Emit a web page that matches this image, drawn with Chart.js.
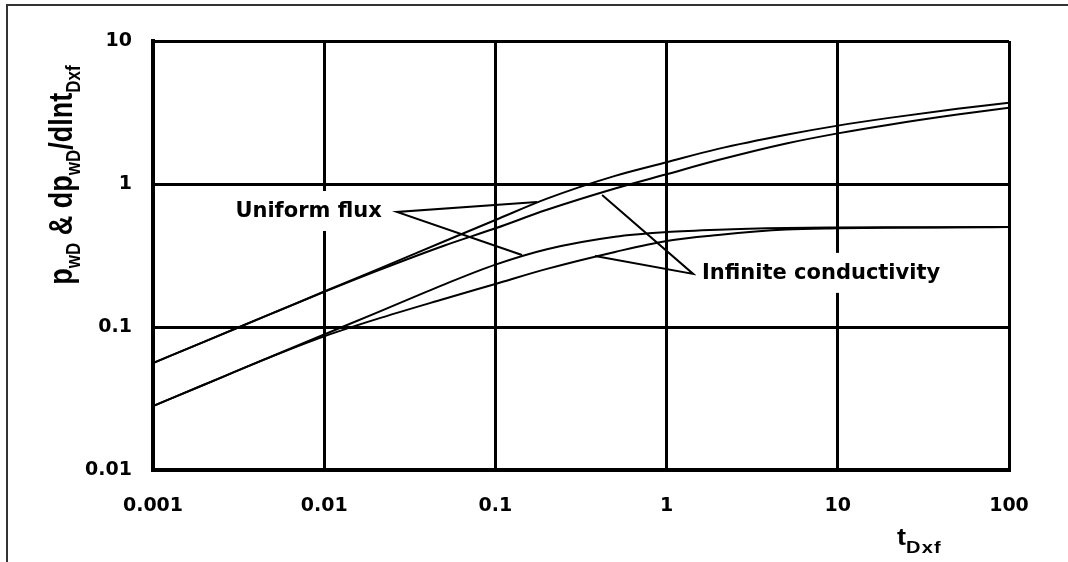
<!DOCTYPE html>
<html>
<head>
<meta charset="utf-8">
<script src="https://cdn.jsdelivr.net/npm/chart.js@4.4.1/dist/chart.umd.min.js"></script>
<style>
  html, body { margin: 0; padding: 0; background: #fff; }
  #wrap { position: relative; width: 1068px; height: 562px; overflow: hidden; }
  #frame { position: absolute; left: 6px; top: 4px; width: 1100px; height: 600px;
           border-top: 2px solid #333; border-left: 2px solid #333; }
  #myChart { position: absolute; left: 0; top: 0; }
</style>
</head>
<body>
<div id="wrap">
  <div id="frame"></div>
  <canvas id="myChart" width="1068" height="562"></canvas>
</div>
<script>
// dimensionless time t_Dxf
const tValues = [0.001, 0.002, 0.005, 0.01, 0.02, 0.05, 0.1, 0.2, 0.5, 1, 2, 5, 10, 20, 50, 100];
// pressure curves
const uniformFluxPwd = [0.056, 0.079, 0.125, 0.177, 0.25, 0.396, 0.56, 0.79, 1.14, 1.42, 1.76, 2.21, 2.56, 2.9, 3.36, 3.7];
const infiniteCondPwd = [0.056, 0.079, 0.125, 0.176, 0.245, 0.37, 0.49, 0.66, 0.93, 1.17, 1.47, 1.92, 2.26, 2.6, 3.06, 3.41];
// derivative curves
const uniformFluxDeriv = [0.028, 0.0396, 0.0627, 0.0886, 0.125, 0.198, 0.273, 0.35, 0.428, 0.461, 0.479, 0.492, 0.496, 0.498, 0.499, 0.5];
const infiniteCondDeriv = [0.028, 0.0396, 0.0625, 0.086, 0.113, 0.157, 0.2, 0.255, 0.335, 0.4, 0.44, 0.48, 0.49, 0.495, 0.498, 0.5];

// pointer lines (middle point is where the label sits)
const ufPointerT = [0.175, 0.0266, 0.143];
const ufPointerV = [0.748, 0.637, 0.319];
const icPointerT = [0.42, 1.43, 0.382];
const icPointerV = [0.838, 0.235, 0.314];

const labelTexts = ['Uniform flux', 'Infinite conductivity'];
const labelT = [0.00303, 1.61];
const labelV = [0.588, 0.217];

const xTicks = [0.001, 0.01, 0.1, 1, 10, 100];
const xTickLabels = ['0.001', '0.01', '0.1', '1', '10', '100'];
const yTicks = [0.01, 0.1, 1, 10];
const yTickLabels = ['0.01', '0.1', '1', '10'];

const yTitleParts = [['p', 0], ['wD', 1], [' & dp', 0], ['wD', 1], ['/dlnt', 0], ['Dxf', 1]];
const xTitleParts = [['t', 0], ['Dxf', 1]];

function toPoints(xs, ys) {
    return xs.map((x, i) => ({ x: x, y: ys[i] }));
}

function curve(values) {
    return {
        data: toPoints(tValues, values),
        borderColor: '#000',
        borderWidth: 2,
        pointRadius: 0,
        showLine: true,
        cubicInterpolationMode: 'monotone'
    };
}

function pointer(ts, vs) {
    return {
        data: toPoints(ts, vs),
        borderColor: '#000',
        borderWidth: 2,
        pointRadius: 0,
        showLine: true,
        tension: 0
    };
}

// labels on white boxes (they break the grid lines)
const labelPlugin = {
    id: 'curveLabels',
    afterDatasetsDraw(chart) {
        const ctx = chart.ctx;
        const x = chart.scales.x, y = chart.scales.y;
        ctx.save();
        ctx.font = 'bold 21px "DejaVu Sans"';
        ctx.textAlign = 'left';
        ctx.textBaseline = 'alphabetic';
        labelTexts.forEach((txt, i) => {
            const px = x.getPixelForValue(labelT[i]);
            const py = y.getPixelForValue(labelV[i]);
            const w = ctx.measureText(txt).width;
            ctx.fillStyle = '#fff';
            ctx.fillRect(px - 6, py - 26, w + 12, 40);
            ctx.fillStyle = '#000';
            ctx.fillText(txt, px, py);
        });
        ctx.restore();
    }
};

function drawParts(ctx, parts, startX, mainFont, subFont, subShift, spacing) {
    let cx = startX;
    parts.forEach(p => {
        ctx.font = p[1] ? subFont : mainFont;
        ctx.letterSpacing = p[1] ? spacing + 'px' : '0px';
        ctx.fillText(p[0], cx, p[1] ? subShift : 0);
        cx += ctx.measureText(p[0]).width;
    });
}

function partsWidth(ctx, parts, mainFont, subFont, spacing) {
    let total = 0;
    parts.forEach(p => {
        ctx.font = p[1] ? subFont : mainFont;
        ctx.letterSpacing = p[1] ? spacing + 'px' : '0px';
        total += ctx.measureText(p[0]).width;
    });
    return total;
}

const titlePlugin = {
    id: 'axisTitles',
    afterDraw(chart) {
        const ctx = chart.ctx;
        ctx.save();
        ctx.fillStyle = '#000';
        ctx.textAlign = 'left';
        ctx.textBaseline = 'alphabetic';

        // y title, rotated
        const yMain = 'bold 27px "Liberation Sans"';
        const ySub = 'bold 17px "Liberation Sans"';
        ctx.save();
        ctx.translate(72, 175);
        ctx.rotate(-Math.PI / 2);
        ctx.scale(1, 1.2);
        const total = partsWidth(ctx, yTitleParts, yMain, ySub, 0);
        drawParts(ctx, yTitleParts, -total / 2, yMain, ySub, 6.5, 0);
        ctx.restore();

        // x title
        ctx.save();
        ctx.translate(897, 545);
        ctx.scale(1.18, 1);
        drawParts(ctx, xTitleParts, 0, 'bold 23px "Liberation Sans"', 'bold 17px "Liberation Sans"', 8, 1);
        ctx.restore();

        ctx.restore();
    }
};

const tickFont = { family: '"DejaVu Sans"', size: 19, weight: 'bold' };

new Chart(document.getElementById('myChart').getContext('2d'), {
    type: 'scatter',
    data: {
        datasets: [
            curve(uniformFluxPwd),
            curve(infiniteCondPwd),
            curve(uniformFluxDeriv),
            curve(infiniteCondDeriv),
            pointer(ufPointerT, ufPointerV),
            pointer(icPointerT, icPointerV)
        ]
    },
    options: {
        responsive: false,
        animation: false,
        layout: { padding: { top: 41, right: 59, bottom: 0, left: 0 } },
        plugins: {
            legend: { display: false },
            tooltip: { enabled: false }
        },
        scales: {
            x: {
                type: 'logarithmic',
                min: 0.001,
                max: 100,
                afterBuildTicks: s => { s.ticks = xTicks.map(v => ({ value: v })); },
                afterFit: s => { s.height = 92; },
                ticks: {
                    callback: v => xTickLabels[xTicks.indexOf(v)],
                    color: '#000',
                    font: tickFont,
                    padding: 25,
                    maxRotation: 0,
                    autoSkip: false
                },
                grid: { color: '#000', lineWidth: 3, drawTicks: false },
                border: { color: '#000', width: 4 }
            },
            y: {
                type: 'logarithmic',
                min: 0.01,
                max: 10,
                afterBuildTicks: s => { s.ticks = yTicks.map(v => ({ value: v })); },
                afterFit: s => { s.width = 153; },
                ticks: {
                    callback: v => yTickLabels[yTicks.indexOf(v)],
                    color: '#000',
                    font: tickFont,
                    padding: 21,
                    autoSkip: false
                },
                grid: { color: '#000', lineWidth: 3, drawTicks: false },
                border: { color: '#000', width: 4 }
            }
        }
    },
    plugins: [labelPlugin, titlePlugin]
});
</script>
</body>
</html>
